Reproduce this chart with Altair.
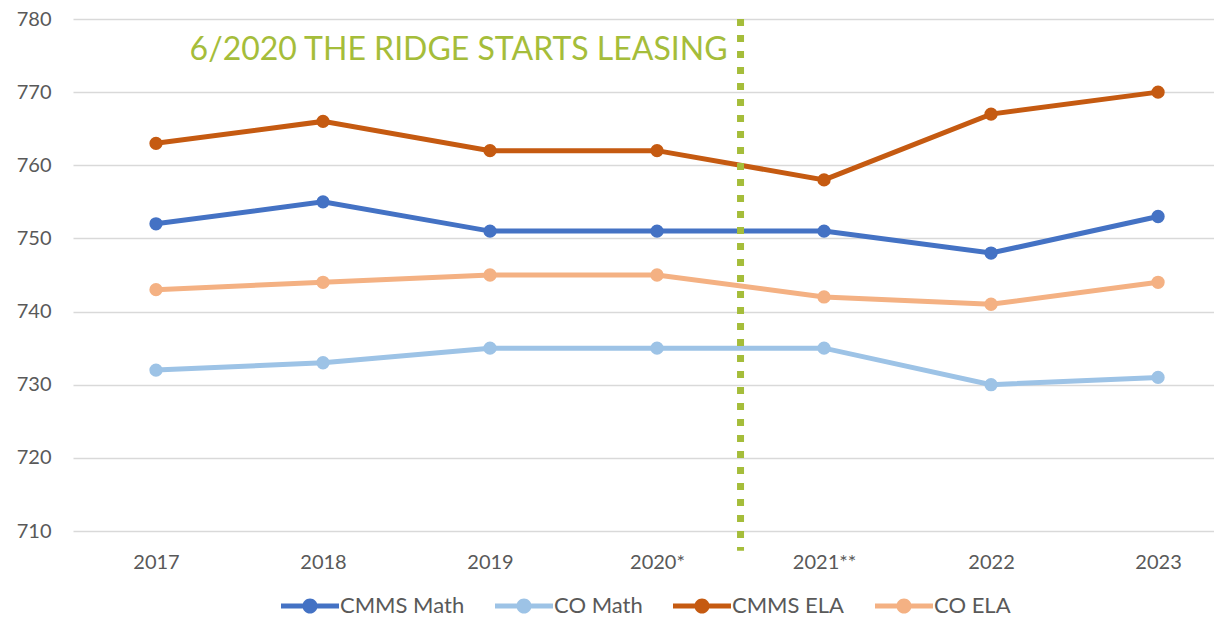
import json
import altair as alt
import pandas as pd

# ---- data ----
years = ["2017", "2018", "2019", "2020*", "2021**", "2022", "2023"]
series = ["CMMS Math", "CO Math", "CMMS ELA", "CO ELA"]
cmms_math = [752, 755, 751, 751, 751, 748, 753]
co_math = [732, 733, 735, 735, 735, 730, 731]
cmms_ela = [763, 766, 762, 762, 758, 767, 770]
co_ela = [743, 744, 745, 745, 742, 741, 744]
colors = ["#4472C4", "#9DC3E6", "#C55A11", "#F4B183"]

# annotation: vertical marker between 2020* and 2021**
marker_x = [3.5]
marker_top = [780]
marker_bottom = [707.3]
marker_label = ["6/2020 THE RIDGE STARTS LEASING"]
marker_label_y = [774.4]
marker_color = "#A5BD3A"

rows = []
for name, col, vals in zip(series, colors, [cmms_math, co_math, cmms_ela, co_ela]):
    for i, (yr, v) in enumerate(zip(years, vals)):
        rows.append({"idx": i, "year": yr, "series": name, "col": col, "score": v})
df = pd.DataFrame(rows)

marker_df = pd.DataFrame({"x": marker_x, "top": marker_top, "bottom": marker_bottom,
                          "label": marker_label, "ly": marker_label_y})

FONT = "Lato"
GREY = "#595959"

x_enc = alt.X(
    "idx:Q",
    scale=alt.Scale(domain=[-0.497, 6.335], nice=False, zero=False),
    axis=alt.Axis(
        values=list(range(len(years))),
        labelExpr=json.dumps(years) + "[datum.value]",
        grid=False, ticks=False, domain=False,
        labelFontSize=20, labelColor=GREY, labelFont=FONT, labelPadding=21,
        title=None,
    ),
)
y_enc = alt.Y(
    "score:Q",
    scale=alt.Scale(domain=[710, 780], nice=False, zero=False),
    axis=alt.Axis(
        values=list(range(710, 781, 10)),
        grid=True, gridColor="#D9D9D9", gridWidth=1.5,
        ticks=False, domain=False,
        labelFontSize=20, labelColor=GREY, labelFont=FONT, labelPadding=22,
        title=None,
    ),
)
color_scale = alt.Scale(domain=series, range=colors)

lines = alt.Chart(df).mark_line(strokeWidth=5).encode(
    x=x_enc, y=y_enc,
    stroke=alt.Stroke("col:N", scale=None),
    detail="series:N",
)

legend_path = ("M-1,-0.085 L1,-0.085 L1,0.085 L-1,0.085 Z "
               "M0.26,0 A0.26,0.26 0 1,1 -0.26,0 A0.26,0.26 0 1,1 0.26,0 Z")

points = alt.Chart(df).mark_point(filled=True, size=177, opacity=1, shape="circle").encode(
    x=x_enc, y=y_enc,
    color=alt.Color(
        "series:N", scale=color_scale,
        legend=alt.Legend(
            title=None, orient="none", direction="horizontal",
            legendX=208, legendY=558,
            symbolType=legend_path, symbolSize=3364, symbolStrokeWidth=0,
            symbolOpacity=1,
            labelFontSize=22, labelColor=GREY, labelFont=FONT,
            labelOffset=1, columnPadding=30,
        ),
    ),
)

rule = alt.Chart(marker_df).mark_rule(
    color=marker_color, strokeWidth=7, strokeDash=[7, 9], strokeCap="butt"
).encode(
    x=alt.X("x:Q"), y=alt.Y("top:Q"), y2="bottom:Q"
)

text = alt.Chart(marker_df).mark_text(
    color=marker_color, font=FONT, fontSize=32, align="right",
    baseline="alphabetic", dx=-13
).encode(
    x=alt.X("x:Q"), y=alt.Y("ly:Q"), text="label:N"
)

chart = alt.layer(lines, points, rule, text).properties(
    width=1141, height=512,
    autosize=alt.AutoSizeParams(type="none"),
    padding={"left": 65, "top": 11, "right": 0, "bottom": 86},
    background="white",
).configure_view(stroke=None)

chart.save("out.html", embed_options={"renderer": "svg", "actions": False})
